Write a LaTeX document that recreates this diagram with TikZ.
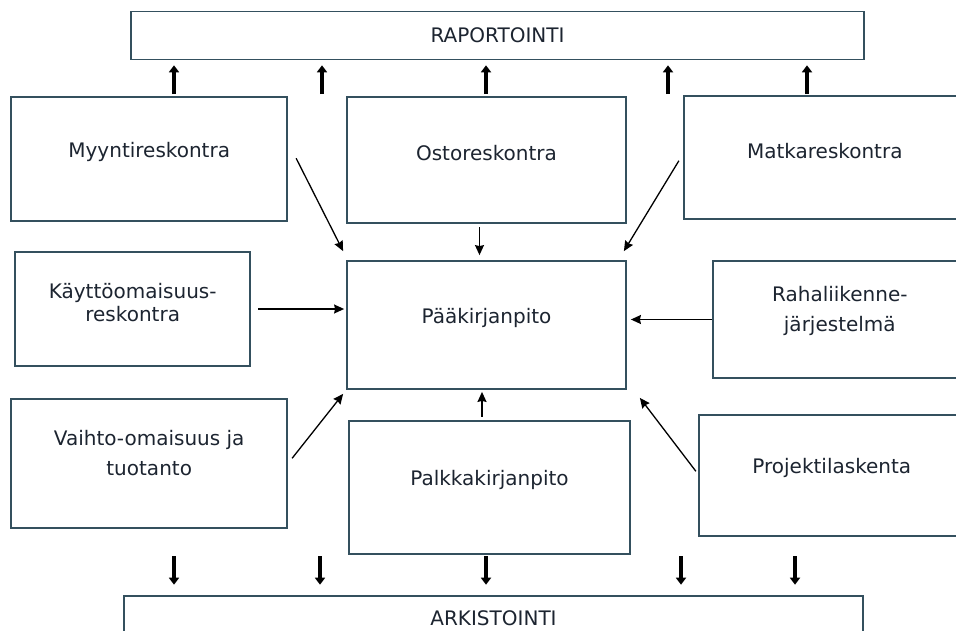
\documentclass[tikz,border=0pt]{standalone}
\usepackage{fontspec}
\setmainfont{DejaVu Sans}
\usepackage{tikz}
\usetikzlibrary{arrows.meta, positioning}
\definecolor{frameSlate}{HTML}{34505E}
\definecolor{inkDark}{HTML}{1C2430}

\begin{document}
\begin{tikzpicture}[
    x=1pt, y=-1pt,
    module/.style={rectangle, draw=frameSlate, line width=1.8pt, align=center, text=inkDark, font=\fontsize{20}{24}\selectfont, text height=1pt, inner sep=0pt},
    bar/.style={rectangle, draw=frameSlate, line width=1.8pt, text=inkDark, font=\fontsize{20}{24}\selectfont, inner sep=0pt},
    arrow/.style={-{Stealth[length=10pt, width=9pt, inset=1pt]}, line width=1.3pt},
    flow/.style={-{Triangle[length=7pt, width=10pt]}, line width=3.5pt},
]
    \clip (0,0) rectangle (956,630);

    % ledger in the middle, the rest placed round it
    \node[module, minimum width=279pt, minimum height=128pt] (paa) at (486.5,325) {Pääkirjanpito};
    \node[module, minimum width=279pt, minimum height=126pt, above=36pt of paa] (osto) {Ostoreskontra};
    \node[module, minimum width=281pt, minimum height=133pt, below=30pt of paa, xshift=3pt] (palkka) {Palkkakirjanpito};
    \node[module, minimum width=276pt, minimum height=124pt, left=58pt of osto, yshift=1pt] (myynti) {Myyntireskontra};
    \node[module, minimum width=282pt, minimum height=123pt, right=56pt of osto, yshift=2.5pt] (matka) {Matkareskontra};
    \node[module, text height=25pt, minimum width=235pt, minimum height=114pt, left=95pt of paa, yshift=16pt] (kaytto) {Käyttöomaisuus-\\[-1pt]reskontra};
    \node[module, text height=29pt, minimum width=254pt, minimum height=117pt, right=85pt of paa, yshift=5.5pt] (raha) {Rahaliikenne-\\[6pt]järjestelmä};
    \node[module, text height=25pt, minimum width=276pt, minimum height=129pt, left=60pt of palkka, yshift=24pt] (vaihto) {Vaihto-omaisuus ja\\[6pt]tuotanto};
    \node[module, minimum width=266pt, minimum height=121pt, right=67pt of palkka, yshift=12pt] (projekti) {Projektilaskenta};
    \node[bar, minimum width=733pt, minimum height=48pt, above=36pt of osto, xshift=11pt] (rap) {RAPORTOINTI};
    \node[bar, minimum width=739pt, minimum height=46pt, below=40pt of palkka, xshift=4pt] (ark) {ARKISTOINTI};

    \draw[arrow] ([shift={(8,-1)}]myynti.east) -- ([shift={(-3,-9)}]paa.north west);
    \draw[arrow, shorten <=3pt, shorten >=5pt] ([xshift=-7pt]osto.south) -- ([xshift=-7pt]paa.north);
    \draw[arrow] ([shift={(-4,3)}]matka.west) -- ([shift={(-3,-9)}]paa.north east);
    \draw[arrow, shorten <=7pt, shorten >=2pt] (kaytto.east) -- (kaytto.east -| paa.west);
    \draw[arrow, shorten >=4pt] (raha.west) -- (raha.west -| paa.east);
    \draw[arrow] ([shift={(4,-5)}]vaihto.east) -- ([shift={(-3,4)}]paa.south west);
    \draw[arrow, shorten <=3pt, shorten >=2pt] ([xshift=-7.5pt]palkka.north) -- ([xshift=-4.5pt]paa.south);
    \draw[arrow] ([shift={(-2,-4)}]projekti.west) -- ([shift={(13,8)}]paa.south east);

    \foreach \x [count=\i] in {174,322,486,668,807} {
        \coordinate (out\i) at (\x,94);
        \draw[flow, shorten >=5pt] (out\i) -- (out\i |- rap.south);
    }
    \foreach \x [count=\i] in {174,320,486,681,795} {
        \coordinate (in\i) at (\x,556);
        \draw[flow, shorten >=10pt] (in\i) -- (in\i |- ark.north);
    }
\end{tikzpicture}
\end{document}
